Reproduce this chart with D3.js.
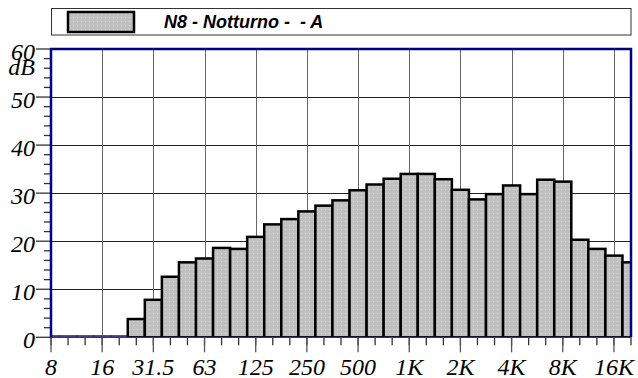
<!DOCTYPE html>
<html><head>
<script src="https://cdn.jsdelivr.net/npm/d3@7/dist/d3.min.js"></script>
<style>html,body{margin:0;padding:0;background:#fff;}</style>
</head><body>
<svg id="c" width="638" height="378"></svg>
<script>
const bands = ["8","10","12.5","16","20","25","31.5","40","50","63","80","100","125","160","200","250","315","400","500","630","800","1K","1.25K","1.6K","2K","2.5K","3.15K","4K","5K","6.3K","8K","10K","12.5K","16K","20K"];
const values = [0.3,0.3,0.3,0.3,0.3,3.8,7.8,12.6,15.6,16.4,18.6,18.4,20.9,23.5,24.6,26.2,27.4,28.5,30.6,31.8,33.0,34.0,34.0,32.9,30.7,28.7,29.8,31.6,29.8,32.8,32.4,20.3,18.4,17.0,15.6];
const xLabels = ["8","16","31.5","63","125","250","500","1K","2K","4K","8K","16K"];
const yTicks = [0,10,20,30,40,50,60];
const seriesName = "N8 - Notturno -  - A";

const svg = d3.select("#c");
const L = 51, R = 631, T = 49, B = 337.3;
const x = d3.scaleLinear().domain([0, bands.length - 1]).range([L, R]);
const y = d3.scaleLinear().domain([0, 60]).range([B, T]);
const bw = x(1) - x(0);

function serif(sel) {
  return sel.style("font-family", d => "'Liberation Serif'").style("font-style","italic").style("font-size","24px");
}

const defs = svg.append("defs");
const pat = defs.append("pattern").attr("id","dots").attr("patternUnits","userSpaceOnUse").attr("width",4).attr("height",4);
pat.append("rect").attr("width",4).attr("height",4).attr("fill","#c0c0c0");
pat.append("rect").attr("x",1).attr("y",1).attr("width",1).attr("height",1).attr("fill","#dcdcdc");
defs.append("clipPath").attr("id","clip").append("rect").attr("x",L).attr("y",T).attr("width",R-L).attr("height",B-T);

// legend
const lg = svg.append("g");
lg.append("rect").attr("x",51.5).attr("y",8.5).attr("width",579.5).attr("height",26.5).attr("fill","#fff").attr("stroke","#333").attr("stroke-width",1);
lg.append("rect").attr("x",68).attr("y",12).attr("width",66).attr("height",20).attr("fill","url(#dots)").attr("stroke","#000").attr("stroke-width",2.5);
lg.append("text").attr("x",164).attr("y",28)
  .style("font-family","'Liberation Sans'").style("font-weight","bold").style("font-style","italic").style("font-size","18px").style("white-space","pre")
  .text(seriesName);

// gridlines
const g = svg.append("g");
g.selectAll(".hg").data(yTicks.filter(d => d > 0 && d < 60)).join("line")
  .attr("x1",L).attr("x2",R).attr("y1",d => Math.round(y(d))+0.5).attr("y2",d => Math.round(y(d))+0.5)
  .attr("stroke","#222").attr("stroke-width",1);
const majorIdx = xLabels.map(l => bands.indexOf(l));
g.selectAll(".vg").data(majorIdx.filter(i => i > 0)).join("line")
  .attr("x1",i => Math.round(x(i))+0.5).attr("x2",i => Math.round(x(i))+0.5).attr("y1",T).attr("y2",B)
  .attr("stroke","#666").attr("stroke-width",1);

// bars
svg.append("g").attr("clip-path","url(#clip)").selectAll("rect").data(values).join("rect")
  .attr("x",(d,i) => x(i) - bw/2).attr("width",bw)
  .attr("y",d => y(d)).attr("height",d => y(0) - y(d))
  .attr("fill","url(#dots)").attr("stroke",d => d < 1 ? "#202060" : "#000").attr("stroke-width",d => d < 1 ? 1.2 : 2.5);

// y axis ticks
const ya = svg.append("g");
const minor = d3.range(0, 61, 2).filter(d => d % 10 !== 0);
ya.selectAll(".mt").data(minor).join("line").attr("x1",44).attr("x2",L).attr("y1",d => y(d)).attr("y2",d => y(d)).attr("stroke","#333").attr("stroke-width",1.3);
ya.selectAll(".Mt").data(yTicks).join("line").attr("x1",36).attr("x2",L).attr("y1",d => y(d)).attr("y2",d => y(d)).attr("stroke","#333").attr("stroke-width",1.3);
serif(ya.selectAll("text").data(yTicks).join("text").attr("x",35).attr("y",d => y(d) + 10.5).attr("text-anchor","end").text(d => d));
serif(svg.append("text").attr("x",35).attr("y",75).attr("text-anchor","end").text("dB"));

// x axis ticks
const xa = svg.append("g");
xa.selectAll(".mt").data(d3.range(bands.length)).join("line").attr("x1",i => x(i)).attr("x2",i => x(i)).attr("y1",B).attr("y2",B+8).attr("stroke","#333").attr("stroke-width",1.3);
xa.selectAll(".Mt").data(majorIdx).join("line").attr("x1",i => x(i)).attr("x2",i => x(i)).attr("y1",B).attr("y2",B+15).attr("stroke","#555").attr("stroke-width",1.3);
serif(xa.selectAll("text").data(xLabels).join("text").attr("x",l => x(bands.indexOf(l))).attr("y",375).attr("text-anchor","middle").text(d => d));

// frame
svg.append("line").attr("x1",L).attr("x2",R).attr("y1",B).attr("y2",B).attr("stroke","#3030a0").attr("stroke-width",1.2);
svg.append("path").attr("d",`M${L},${B}V${T}H${R}V${B}`).attr("fill","none").attr("stroke","#000080").attr("stroke-width",2.5);
</script>
</body></html>
